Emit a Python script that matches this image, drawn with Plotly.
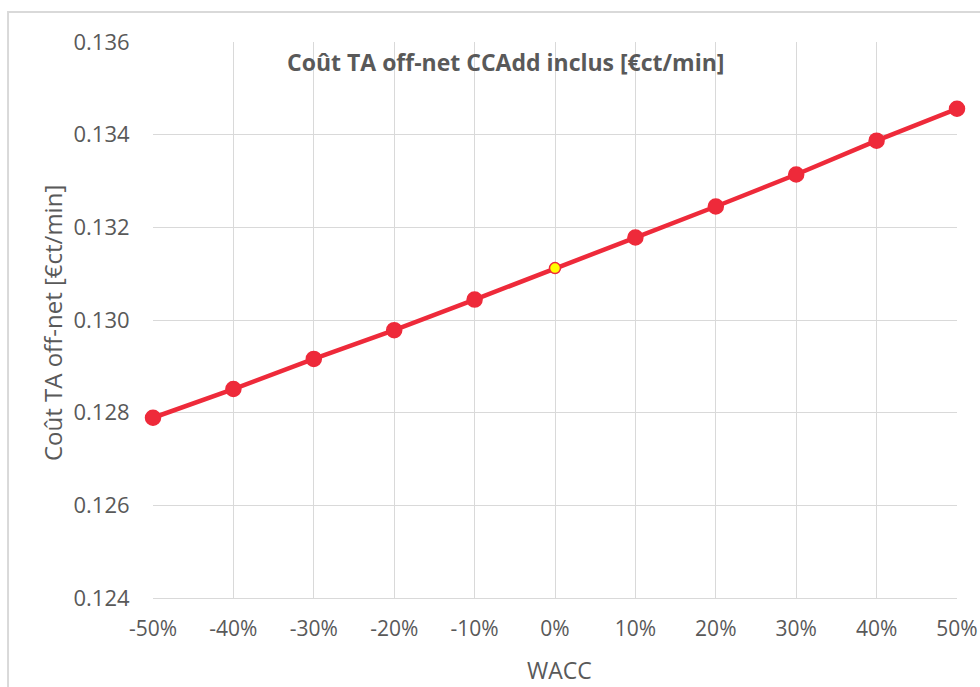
import plotly.graph_objects as go

categories = ["-50%", "-40%", "-30%", "-20%", "-10%", "0%", "10%", "20%", "30%", "40%", "50%"]
values = [0.12789, 0.12851, 0.12916, 0.12978, 0.13044, 0.13112, 0.13178, 0.13245, 0.13314, 0.13387, 0.13456]
y_ticks = [0.124, 0.126, 0.128, 0.130, 0.132, 0.134, 0.136]
title_text = "Coût TA off-net CCAdd inclus [€ct/min]"
y_title = "Coût TA off-net [€ct/min]"
x_title = "WACC"

RED = "#EE2A3A"
GREY = "#595959"
FONT = "Open Sans"

marker_colors = ["#FFFF00" if c == "0%" else RED for c in categories]
marker_sizes = [11 if c == "0%" else 15 for c in categories]

fig = go.Figure()
fig.add_trace(go.Scatter(
    x=categories, y=values, mode="lines+markers",
    line=dict(color=RED, width=4.5),
    marker=dict(color=marker_colors, size=marker_sizes, opacity=1,
                line=dict(color=RED, width=1.5)),
    cliponaxis=False, showlegend=False,
))

fig.update_layout(
    width=980, height=687,
    margin=dict(l=153, r=23, t=42, b=89),
    paper_bgcolor="white", plot_bgcolor="white",
    font=dict(family=FONT, color=GREY, size=22),
    xaxis=dict(
        type="category", range=[0, 10], automargin=False,
        showgrid=True, gridcolor="#D9D9D9", gridwidth=1,
        showline=True, linecolor="#D9D9D9", linewidth=1, zeroline=False,
        ticks="outside", ticklen=12, tickcolor="rgba(0,0,0,0)",
        tickfont=dict(size=21, color=GREY, family=FONT),
    ),
    yaxis=dict(
        range=[0.124, 0.136], tickvals=y_ticks, ticktext=[f"{v:.3f}" for v in y_ticks],
        automargin=False,
        showgrid=True, gridcolor="#D9D9D9", gridwidth=1, zeroline=False,
        showline=False,
        ticks="outside", ticklen=18, tickcolor="rgba(0,0,0,0)",
        tickfont=dict(size=22, color=GREY, family=FONT),
    ),
    annotations=[
        dict(text=f"<b>{title_text}</b>", x=0.439, y=0.964, xref="paper", yref="paper",
             showarrow=False, font=dict(size=23, color=GREY, family=FONT), xanchor="center", yanchor="middle"),
        dict(text=x_title, x=0.506, y=-0.1295, xref="paper", yref="paper",
             showarrow=False, font=dict(size=23, color=GREY, family=FONT), xanchor="center", yanchor="middle"),
        dict(text=y_title, x=-0.1256, y=0.4946, xref="paper", yref="paper", textangle=-90,
             showarrow=False, font=dict(size=24, color=GREY, family=FONT), xanchor="center", yanchor="middle"),
    ],
    shapes=[
        dict(type="rect", xref="paper", yref="paper", x0=-0.1803, x1=1.3, y0=-0.4, y1=1.054,
             line=dict(color="#D9D9D9", width=2), fillcolor="rgba(0,0,0,0)", layer="below"),
    ],
)

fig.write_html(
    "out.html",
    config={"displayModeBar": False},
    post_script="document.body.style.margin='0';document.body.style.overflow='hidden';",
)
